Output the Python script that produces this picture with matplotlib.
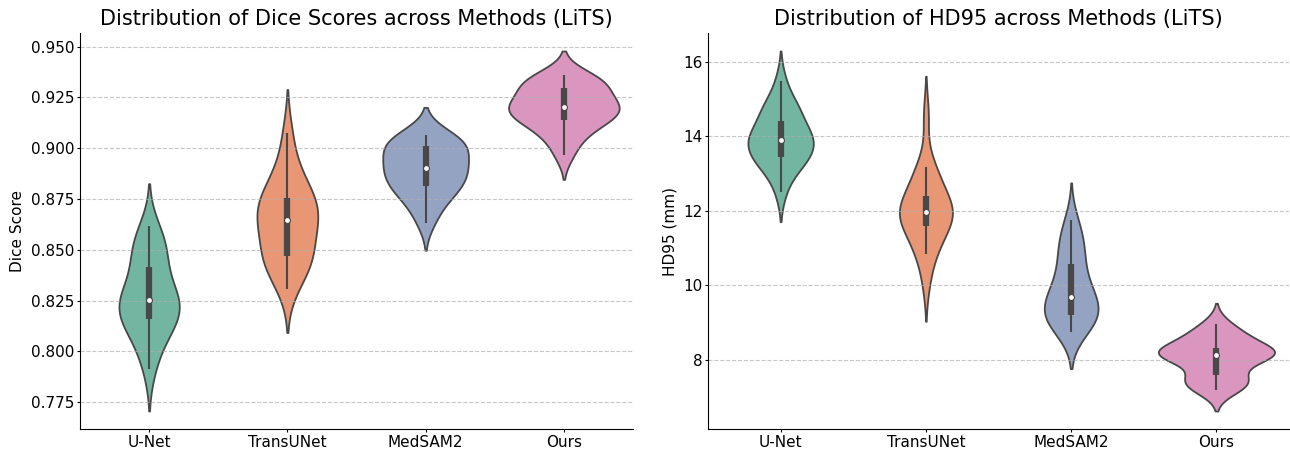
import matplotlib
matplotlib.use('Agg')
import matplotlib.pyplot as plt
import numpy as np
import seaborn as sns
from matplotlib import cbook

methods = ['U-Net', 'TransUNet', 'MedSAM2', 'Ours']

# Dice scores per case
dice_unet = [0.7915, 0.801, 0.807, 0.811, 0.815, 0.8161, 0.818, 0.820, 0.822, 0.824,
             0.8266, 0.828, 0.831, 0.834, 0.840, 0.8465, 0.849, 0.852, 0.856, 0.8618]
dice_transunet = [0.8309, 0.838, 0.842, 0.845, 0.8462, 0.8473, 0.852, 0.857, 0.861, 0.8635,
                  0.8659, 0.868, 0.870, 0.872, 0.8745, 0.8778, 0.881, 0.886, 0.893, 0.9073]
dice_medsam2 = [0.8634, 0.870, 0.875, 0.878, 0.8800, 0.8816, 0.884, 0.886, 0.888, 0.8895,
                0.8915, 0.893, 0.895, 0.897, 0.9005, 0.9021, 0.9028, 0.9040, 0.9052, 0.9065]
dice_ours = [0.8965, 0.9035, 0.9075, 0.9108, 0.9132, 0.9143, 0.9162, 0.9176, 0.9187, 0.9197,
             0.9209, 0.9220, 0.9234, 0.9255, 0.9292, 0.9304, 0.9320, 0.9334, 0.9347, 0.9360]

# HD95 in mm per case
hd95_unet = [12.51, 13.00, 13.20, 13.32, 13.38, 13.45, 13.62, 13.72, 13.80, 13.86,
             13.94, 14.02, 14.10, 14.20, 14.33, 14.65, 14.72, 14.78, 14.95, 15.49]
hd95_transunet = [10.10, 10.83, 10.95, 11.15, 11.45, 11.625, 11.70, 11.80, 11.88, 11.95,
                  12.01, 12.08, 12.15, 12.22, 12.30, 12.70, 12.88, 13.05, 13.17, 14.55]
hd95_medsam2 = [8.76, 8.90, 9.00, 9.08, 9.14, 9.22, 9.32, 9.42, 9.52, 9.62,
                9.74, 9.88, 10.05, 10.25, 10.50, 10.78, 10.98, 11.18, 11.42, 11.76]
hd95_ours = [7.19, 7.30, 7.38, 7.43, 7.47, 7.63, 8.09, 8.11, 8.125, 8.135,
             8.145, 8.16, 8.18, 8.20, 8.27, 8.47, 8.56, 8.66, 8.78, 8.96]

dice_scores = [dice_unet, dice_transunet, dice_medsam2, dice_ours]
hd95_scores = [hd95_unet, hd95_transunet, hd95_medsam2, hd95_ours]

# drawing style
line_gray = '#484848'
set2 = sns.color_palette('Set2', len(methods))
dice_widths = [0.436, 0.44, 0.62, 0.80]
hd95_widths = [0.45, 0.365, 0.37, 0.80]


def violin_panel(ax, groups, widths, title, ylabel):
    for i, (method, vals) in enumerate(zip(methods, groups)):
        sns.violinplot(x=[method] * len(vals), y=vals, order=methods, color=set2[i],
                       density_norm='width', width=widths[i], inner=None,
                       linewidth=1.3, linecolor=line_gray, ax=ax)

    # inner box: whiskers, IQR bar and median dot
    for i, vals in enumerate(groups):
        st = cbook.boxplot_stats(np.asarray(vals))[0]
        ax.plot([i, i], [st['whislo'], st['whishi']], color=line_gray, lw=1.5,
                solid_capstyle='butt', zorder=3)
        ax.plot([i, i], [st['q1'], st['q3']], color=line_gray, lw=4.5,
                solid_capstyle='butt', zorder=3)
        ax.scatter(i, st['med'], s=18, color='white', edgecolor=line_gray,
                   linewidth=0.8, zorder=4)

    ax.set_xlim(-0.5, len(methods) - 0.5)
    ax.set_title(title, fontsize=15)
    ax.set_xlabel('')
    ax.set_ylabel(ylabel, fontsize=11)
    ax.tick_params(labelsize=11, length=2.5, pad=1.5)
    ax.grid(axis='y', linestyle='--', linewidth=0.8, color='#b0b0b0', alpha=0.7)
    sns.despine(ax=ax)


fig = plt.figure(figsize=(12.9, 4.51), dpi=100)
ax1 = fig.add_axes([0.0620, 0.0488, 0.4287, 0.8780])
ax2 = fig.add_axes([0.5488, 0.0488, 0.4505, 0.8780])

violin_panel(ax1, dice_scores, dice_widths,
             'Distribution of Dice Scores across Methods (LiTS)', 'Dice Score')
violin_panel(ax2, hd95_scores, hd95_widths,
             'Distribution of HD95 across Methods (LiTS)', 'HD95 (mm)')

fig.savefig('out.png', dpi=100)
